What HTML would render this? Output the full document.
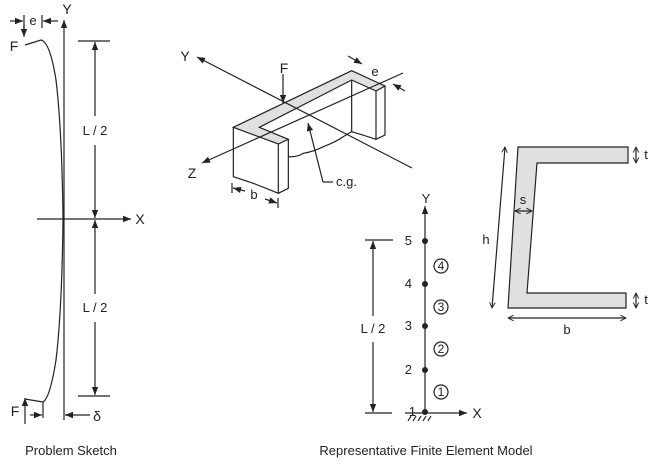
<!DOCTYPE html>
<html><head><meta charset="utf-8"><style>
html,body{margin:0;padding:0;background:#fff;}
svg{display:block;font-family:"Liberation Sans",Arial,sans-serif;}
</style></head><body>
<svg width="653" height="467" viewBox="0 0 653 467" xmlns="http://www.w3.org/2000/svg">
<defs>
<marker id="a" viewBox="0 0 10 10" refX="10" refY="5" markerWidth="9" markerHeight="8" markerUnits="userSpaceOnUse" orient="auto-start-reverse"><path d="M0,1 L10,5 L0,9 z" fill="#222"/></marker>
<marker id="o" viewBox="0 0 10 10" refX="9" refY="5" markerWidth="7" markerHeight="7" markerUnits="userSpaceOnUse" orient="auto-start-reverse"><path d="M1,1 L9,5 L1,9" fill="none" stroke="#222" stroke-width="1.3"/></marker>
</defs>
<g stroke="#222" stroke-width="1.2" fill="none">
<!-- Left panel -->
<line x1="64" y1="420" x2="64" y2="20" marker-end="url(#a)"/>
<line x1="37" y1="219" x2="131" y2="219" marker-end="url(#a)"/>
<path d="M25,45 L41,40 Q50,42 56,80 Q62,130 63,219 Q62,310 56,360 Q50,398 43,402 L25,399"/>
<line x1="10" y1="21" x2="23" y2="21" marker-end="url(#a)"/>
<line x1="24" y1="15" x2="24" y2="28"/>
<line x1="24" y1="24" x2="24" y2="37" marker-end="url(#a)"/>
<line x1="42" y1="15" x2="42" y2="28"/>
<line x1="58" y1="21" x2="43" y2="21" marker-end="url(#a)"/>
<line x1="78" y1="41" x2="110" y2="41"/>
<line x1="78" y1="396" x2="110" y2="396"/>
<line x1="95" y1="116" x2="95" y2="42" marker-end="url(#a)"/>
<line x1="95" y1="145" x2="95" y2="218" marker-end="url(#a)"/>
<line x1="95" y1="294" x2="95" y2="220" marker-end="url(#a)"/>
<line x1="95" y1="322" x2="95" y2="395" marker-end="url(#a)"/>
<line x1="25" y1="424" x2="25" y2="398" marker-end="url(#a)"/>
<line x1="43" y1="402" x2="43" y2="418"/>
<line x1="30" y1="415" x2="42" y2="415" marker-end="url(#a)"/>
<line x1="90" y1="415" x2="65" y2="415" marker-end="url(#a)"/>

<!-- Middle 3D -->
<g transform="translate(170,20) scale(0.33333)" stroke-width="3.6">
<path d="M190,322 L545,152 L645,198 L618,213 L545,180 L268,322 L355,358 L325,372 Z" fill="#e0e0e0"/>
<path d="M190,322 L190,470 Q220,480 250,490 Q290,505 325,520 L325,372"/>
<path d="M325,520 L355,505 L355,358"/>
<path d="M645,198 L645,345 L618,358 L618,213"/>
<path d="M545,182 L545,335"/>
<path d="M355,410 Q380,412 400,400 Q430,395 460,380 Q500,365 520,350 L545,335 Q580,345 618,358"/>
</g>
<line x1="412" y1="168" x2="197" y2="57" marker-end="url(#a)"/>
<line x1="403" y1="73" x2="202" y2="163" marker-end="url(#a)"/>
<line x1="283" y1="74" x2="283" y2="103" marker-end="url(#a)"/>
<path d="M323,182 L308,123" marker-end="url(#a)"/>
<path d="M323,182 L333,182"/>
<line x1="232" y1="183" x2="232" y2="193"/>
<line x1="245" y1="191" x2="233" y2="188" marker-end="url(#a)"/>
<line x1="265" y1="199" x2="277" y2="203" marker-end="url(#a)"/>
<line x1="278" y1="198" x2="278" y2="208"/>
<line x1="348" y1="56" x2="362" y2="64" marker-end="url(#a)"/>
<line x1="405" y1="91" x2="393" y2="84" marker-end="url(#a)"/>

<!-- FE model -->
<line x1="425" y1="413" x2="425" y2="206" marker-end="url(#a)"/>
<line x1="405" y1="413" x2="467" y2="413" marker-end="url(#a)"/>
<path d="M408,421 L411,416 M413,421 L416,416 M418,421 L421,416 M423,421 L426,416 M428,421 L431,416"/>
<line x1="365" y1="240" x2="393" y2="240"/>
<line x1="365" y1="413" x2="392" y2="413"/>
<line x1="373" y1="316" x2="373" y2="241" marker-end="url(#a)"/>
<line x1="373" y1="342" x2="373" y2="412" marker-end="url(#a)"/>
<circle cx="441" cy="266" r="7"/><circle cx="441" cy="307" r="7"/><circle cx="441" cy="349" r="7"/><circle cx="441" cy="392" r="7"/>

<!-- C section -->
<path d="M518,147 L628,147 L628,163 L537,163 L527,293 L626,293 L626,308 L508,308 Z" fill="#e0e0e0"/>
<line x1="505" y1="147" x2="492" y2="308" marker-start="url(#o)" marker-end="url(#o)"/>
<line x1="515" y1="211" x2="532" y2="211" marker-start="url(#o)" marker-end="url(#o)"/>
<line x1="636" y1="147" x2="636" y2="163" marker-start="url(#o)" marker-end="url(#o)"/>
<line x1="636" y1="293" x2="636" y2="308" marker-start="url(#o)" marker-end="url(#o)"/>
<line x1="508" y1="318" x2="626" y2="318" marker-start="url(#o)" marker-end="url(#o)"/>
</g>
<g fill="#222">
<circle cx="425" cy="241" r="3"/><circle cx="425" cy="284" r="3"/><circle cx="425" cy="326" r="3"/><circle cx="425" cy="370" r="3"/><circle cx="425" cy="412" r="3"/>
</g>
<g font-size="13" fill="#222" text-anchor="middle">
<text x="67" y="14" font-size="14">Y</text>
<text x="140" y="224" font-size="14">X</text>
<text x="14" y="51" font-size="14">F</text>
<text x="33" y="25">e</text>
<text x="95" y="135">L / 2</text>
<text x="95" y="312">L / 2</text>
<text x="15" y="416" font-size="14">F</text>
<text x="97" y="421" font-size="14">δ</text>
<text x="71" y="455">Problem Sketch</text>
<text x="185" y="61" font-size="14">Y</text>
<text x="284" y="73" font-size="14">F</text>
<text x="375" y="76">e</text>
<text x="192" y="178" font-size="14">Z</text>
<text x="254" y="199">b</text>
<text x="336" y="186" text-anchor="start">c.g.</text>
<text x="426" y="203">Y</text>
<text x="477" y="418" font-size="14">X</text>
<text x="412" y="245" text-anchor="end">5</text>
<text x="412" y="288" text-anchor="end">4</text>
<text x="412" y="330" text-anchor="end">3</text>
<text x="412" y="374" text-anchor="end">2</text>
<text x="416" y="416" text-anchor="end">1</text>
<text x="441" y="270" font-size="12">4</text>
<text x="441" y="311" font-size="12">3</text>
<text x="441" y="353" font-size="12">2</text>
<text x="441" y="396" font-size="12">1</text>
<text x="373" y="333">L / 2</text>
<text x="486" y="244">h</text>
<text x="523" y="204">s</text>
<text x="646" y="159">t</text>
<text x="646" y="304">t</text>
<text x="567" y="334">b</text>
<text x="426" y="455">Representative Finite Element Model</text>
</g>
</svg>
</body></html>
